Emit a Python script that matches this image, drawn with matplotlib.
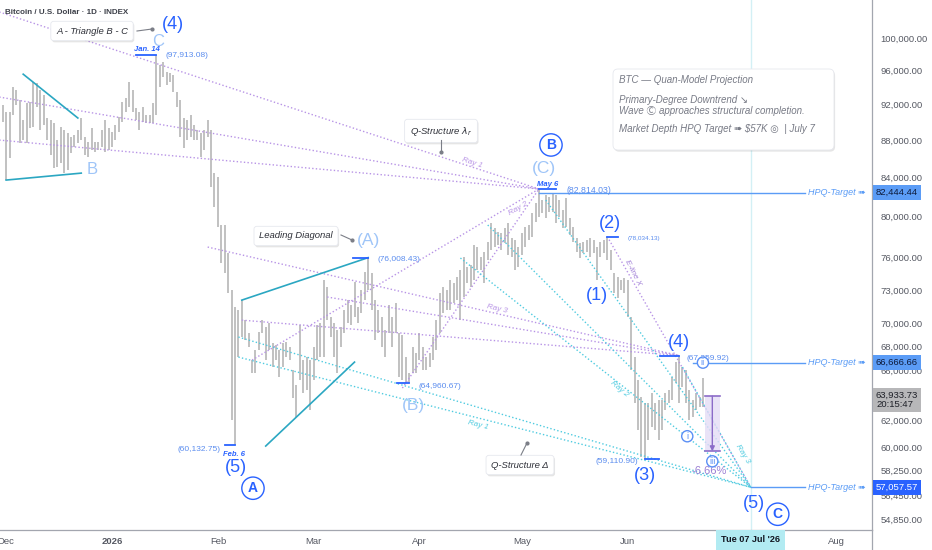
import matplotlib
matplotlib.use("Agg")
import matplotlib.pyplot as plt
import matplotlib.dates as mdates
import matplotlib.patheffects as pe
import matplotlib.transforms as mtransforms
import pandas as pd
from matplotlib.lines import Line2D
from matplotlib.patches import FancyBboxPatch, Rectangle
from matplotlib.ticker import NullLocator, NullFormatter

plt.rcParams["font.family"] = ["Liberation Sans", "DejaVu Sans", "Noto Sans CJK JP"]

# ---- daily bars (high / low), 2025-11-30 .. 2026-06-23
bar_start, bar_end = "2025-11-30", "2026-06-23"
high_nov = [91960]
low_nov = [90040]
high_dec = [91160, 91160, 94070, 93710, 92540, 90260, 92190, 92310, 94650, 94540,
            93710, 93130, 90490, 90260, 89920, 88030, 89480, 89140, 88810, 88360,
            88590, 89140, 90490, 88360, 87810, 89360, 87810, 87810, 89140, 90260, 89360]
low_dec = [83740, 86080, 90820, 91960, 87700, 88030, 87700, 89360, 89480, 91730,
           89140, 89700, 88030, 86400, 85000, 85110, 85540, 84470, 84790, 86620,
           87270, 87700, 88030, 86400, 86190, 86940, 86730, 86940, 87270, 86730, 86940]
high_jan = [88920, 89700, 90600, 92310, 92770, 94650, 93710, 91620, 91160, 91730,
            90820, 90820, 92190, 97913, 96680, 97040, 95840, 95720, 95480, 93480,
            92540, 90490, 90260, 90820, 89700, 89140, 88810, 89140, 90260, 89140, 84470]
low_jan = [87270, 88030, 88920, 90040, 91160, 91730, 91160, 90260, 89140, 90040,
           89920, 89920, 89920, 90820, 94070, 95240, 94300, 94650, 93480, 91730,
           88360, 87160, 88030, 88360, 88030, 88030, 86190, 86940, 88360, 83010, 80960]
high_feb = [84050, 79170, 79170, 76440, 72990, 71460, 71190, 72080, 70300, 69170,
            66880, 67720, 69260, 70300, 69690, 70040, 68310, 68140, 67720, 68310,
            68400, 67970, 66050, 64830, 69870, 66880, 67130, 66880]
low_feb = [78970, 75490, 74560, 72720, 62050, 60133, 67130, 68830, 68570, 67970,
           65800, 65800, 67720, 69170, 66880, 67720, 66300, 66880, 65480, 66300,
           67130, 66880, 63780, 62290, 65230, 64180, 64420, 62830]
high_mar = [67970, 69870, 70040, 73910, 73270, 70570, 70040, 69430, 69690, 71190,
            72080, 71630, 73730, 71460, 72990, 74650, 76008, 74560, 72080, 71190,
            70570, 69430, 71630, 70570, 71810, 69170, 69000, 67130, 65800, 67970, 67470]
low_mar = [65230, 66880, 67130, 67130, 70300, 68830, 67130, 65800, 67970, 69170,
           70040, 69870, 70570, 70040, 70920, 72080, 72990, 71190, 68570, 69170,
           67970, 67130, 69170, 67970, 69170, 65480, 65230, 64990, 64961, 65800, 65800]
high_apr = [69170, 67970, 67130, 67470, 68830, 70300, 72720, 73270, 72990, 73910,
            73640, 74190, 74840, 76060, 75120, 75310, 77210, 77020, 76060, 76540,
            77500, 79360, 78870, 78480, 78380, 78870, 79360, 77890, 77690, 77020]
low_apr = [66880, 66050, 66050, 66300, 66880, 67720, 69170, 70920, 71190, 71190,
           71810, 72080, 70300, 72360, 73640, 73270, 73910, 74840, 74840, 73640,
           75780, 76730, 77020, 77210, 76730, 77400, 76250, 76060, 74840, 75120]
high_may = [78380, 78970, 79170, 80360, 81370, 82814, 81670, 82190, 81980, 82390,
            82190, 81670, 80660, 81880, 79860, 78970, 77890, 77400, 77500, 77690,
            77890, 77690, 77020, 77500, 77690, 78034, 76730, 74560, 74190, 73910, 74100]
low_may = [76250, 77020, 77690, 77990, 79460, 79960, 80360, 79860, 80460, 80460,
           79360, 79960, 78870, 78970, 78180, 77500, 76540, 75970, 76440, 76540,
           76060, 76440, 73910, 76060, 76440, 75780, 74840, 72720, 72270, 72990, 72720]
high_jun = [73910, 70570, 67130, 65230, 63860, 63380, 63380, 64180, 63380, 63620,
            63620, 64180, 64420, 65480, 66710, 67260, 66300, 66050, 64420, 63620,
            64180, 63860, 65390]
low_jun = [70570, 66050, 63380, 61280, 59250, 59111, 60520, 61510, 61280, 60520,
           61280, 62830, 63380, 63620, 64990, 63380, 64670, 63380, 62050, 62290,
           62830, 63070, 63070]

highs = high_nov + high_dec + high_jan + high_feb + high_mar + high_apr + high_may + high_jun
lows = low_nov + low_dec + low_jan + low_feb + low_mar + low_apr + low_may + low_jun

last_price = 63933.73
last_clock = "20:15:47"
measure_pct = -6.66

# wave pivots (date, price)
jan14 = ("2026-01-14", 97913.08)
feb06 = ("2026-02-06", 60132.75)
mar17 = ("2026-03-17", 76008.43)
mar29 = ("2026-03-29", 64960.67)
may06 = ("2026-05-06", 82814.03)
may23 = ("2026-05-23", 73910.00)
may26 = ("2026-05-26", 78034.13)
jun06 = ("2026-06-06", 59110.90)
jun16 = ("2026-06-16", 67259.92)
target = ("2026-07-07", 57057.57)

hpq_prices = [82444.44, 66666.66, 57057.57]
hpq_starts = ["2026-05-06", "2026-06-20", "2026-07-07"]
hpq_end = "2026-07-23"

# rays and trend lines, each as (start, end) points
purple_rays = [
    (("2025-11-29", 103300), may06),
    (("2025-11-29", 92890), may06),
    (("2025-11-29", 88030), may06),
    (("2026-02-11", 66880), may06),
    (("2026-03-27", 64580), may06),
    (("2026-01-29", 77020), jun16),
    (("2026-03-05", 72360), jun16),
    (("2026-02-08", 70300), jun16),
    (may26, target),
]
cyan_rays = [
    (("2026-02-07", 68830), target),
    (("2026-02-07", 67130), target),
    (("2026-04-13", 75970), target),
    (("2026-04-21", 79170), target),
    (("2026-05-08", 81670), target),
    (("2026-06-17", 66300), target),
]
teal_lines = [
    (("2025-12-01", 83740), ("2025-12-23", 84470)),
    (("2025-12-06", 95580), ("2025-12-22", 90490)),
    (("2026-02-08", 72080), mar17),
    (("2026-02-15", 60070), ("2026-03-13", 66710)),
]
marker_lines = [
    (("2026-01-08", jan14[1]), jan14),
    (("2026-02-03", feb06[1]), feb06),
    (("2026-03-12 12:00", mar17[1]), mar17),
    (("2026-03-25 12:00", mar29[1]), mar29),
    (may06, ("2026-05-11", may06[1])),
    (may26, ("2026-05-29", may26[1])),
    (jun06, ("2026-06-10", jun06[1])),
    (("2026-06-10 12:00", jun16[1]), jun16),
]

price_ticks = [100000, 96000, 92000, 88000, 84000, 80000, 76000, 73000, 70000,
               68000, 66000, 62000, 60000, 58250, 56450, 54850]
month_ticks = ["2025-12-01", "2026-01-01", "2026-02-01", "2026-03-01", "2026-04-01",
               "2026-05-01", "2026-06-01", "2026-08-01"]
month_labels = ["Dec", "2026", "Feb", "Mar", "Apr", "May", "Jun", "Aug"]

BLUE = "#2962ff"
LIGHT = "#9fc5f8"
PRICE_BLUE = "#5b8def"
TEAL = "#2ba7c2"
CYAN = "#4fcbe0"
PURPLE = "#b894e6"
HPQ = "#5b9cf6"
NOTE = "#787b86"
DOTS = (0, (1, 1.6))


def d(s):
    return mdates.date2num(pd.Timestamp(s))


fig = plt.figure(figsize=(9.32, 5.5), dpi=100)
ax = fig.add_axes([0, 20 / 550, 872 / 932, 530 / 550])
ax.set_yscale("log")
ax.set_xlim(d("2025-11-29 05:00"), d("2026-08-11 12:00"))
ax.set_ylim(54090, 104860)

# pixel layout transform for notes (x right, y down, origin top-left of the plot)
W, H = 872.0, 530.0
tpx = mtransforms.Affine2D().scale(1 / W, -1 / H).translate(0, 1) + ax.transAxes

# axes styling
for side in ("left", "top"):
    ax.spines[side].set_visible(False)
for side in ("right", "bottom"):
    ax.spines[side].set_color("#a3a6af")
    ax.spines[side].set_linewidth(0.9)
ax.yaxis.tick_right()
ax.set_yticks(price_ticks)
ax.set_yticklabels([f"{v:,.2f}" for v in price_ticks])
ax.yaxis.set_minor_locator(NullLocator())
ax.yaxis.set_minor_formatter(NullFormatter())
ax.tick_params(axis="y", length=0, pad=6, labelsize=6.8, labelcolor="#555862")
ax.set_xticks([d(s) for s in month_ticks])
ax.set_xticklabels(month_labels)
ax.tick_params(axis="x", length=0, pad=5, labelsize=6.8, labelcolor="#555862")
ax.get_xticklabels()[1].set_fontweight("bold")
fig.add_artist(Line2D([872 / 932] * 2, [0, 20 / 550], transform=fig.transFigure,
                      color="#a3a6af", lw=0.9))

# crosshair at the target date
ax.axvline(d(target[0]), color="#d3f0f5", lw=1, zorder=0)

# price bars
bar_x = mdates.date2num(pd.date_range(bar_start, bar_end, freq="D"))
ax.vlines(bar_x, lows, highs, color="#b3b3b3", lw=1.15, zorder=1)

for (a, b) in purple_rays:
    ax.plot([d(a[0]), d(b[0])], [a[1], b[1]], color=PURPLE, lw=1, ls=DOTS, zorder=2)
for (a, b) in cyan_rays:
    ax.plot([d(a[0]), d(b[0])], [a[1], b[1]], color=CYAN, lw=1, ls=DOTS, zorder=2)
for (a, b) in teal_lines:
    ax.plot([d(a[0]), d(b[0])], [a[1], b[1]], color=TEAL, lw=1.2, zorder=2)
for (a, b) in marker_lines:
    ax.plot([d(a[0]), d(b[0])], [a[1], b[1]], color=BLUE, lw=1.3, zorder=3)

for price, start in zip(hpq_prices, hpq_starts):
    ax.plot([d(start), d(hpq_end)], [price, price], color=HPQ, lw=1, zorder=3)
    ax.annotate("HPQ-Target \u27a0", xy=(d(hpq_end), price), xytext=(3, 0),
                textcoords="offset pixels", ha="left", va="center", fontsize=6.5,
                style="italic", color=HPQ, annotation_clip=False)

# measure box (-6.66 %)
m_top = last_price
m_bot = last_price * (1 + measure_pct / 100)
m_x0, m_x1, m_mid = d("2026-06-23 12:00"), d("2026-06-28"), d("2026-06-25 18:00")
ax.add_patch(Rectangle((m_x0, m_bot), m_x1 - m_x0, m_top - m_bot, fc="#e4dcf6",
                       ec="none", alpha=0.8, zorder=2))
ax.plot([m_x0, m_x1], [m_top, m_top], color="#8c6cc8", lw=1.2, zorder=3)
ax.plot([m_x0, m_x1], [m_bot, m_bot], color="#8c6cc8", lw=1.2, zorder=3)
ax.annotate("", xy=(m_mid, m_bot), xytext=(m_mid, m_top),
            arrowprops=dict(arrowstyle="-|>", color="#8c6cc8", lw=1, mutation_scale=7,
                            shrinkA=0, shrinkB=0), zorder=3)
ax.annotate(f"{measure_pct:.2f}%", xy=(m_mid, m_bot), xytext=(-3, -20),
            textcoords="offset pixels", ha="center", va="center", fontsize=8,
            color="#9b7fd4")


def tag(text, pivot, dx, dy, size=6, color=PRICE_BLUE, ha="center", **kw):
    return ax.annotate(text, xy=(d(pivot[0]), pivot[1]), xytext=(dx, dy),
                       textcoords="offset pixels", ha=ha, va="center", fontsize=size,
                       color=color, annotation_clip=False, zorder=5, **kw)


def ring(text, pivot, dx, dy, size=10, color=BLUE, pad=0.3, weight="bold"):
    return tag(text, pivot, dx, dy, size=size, color=color, weight=weight,
               bbox=dict(boxstyle=f"circle,pad={pad}", fc="white", ec=color, lw=1))


tag("(4)", jan14, 17, 30, size=13, color=BLUE)
tag("C", jan14, 2, 13, size=12, color=LIGHT)
tag("Jan. 14", jan14, -9, 5, size=5.5, color=BLUE, weight="bold", style="italic")
tag("(97,913.08)", jan14, 9, -1, ha="left")

tag("(60,132.75)", feb06, -14, -4, ha="right")
tag("Feb. 6", feb06, -1, -9, size=5.5, color=BLUE, weight="bold", style="italic")
tag("(5)", feb06, 1, -22, size=13, color=BLUE)
ring("A", feb06, 18, -43)

tag("(76,008.43)", mar17, 9, -2, ha="left")
tag("(A)", mar17, 0, 17, size=12.5, color=LIGHT)
tag("(64,960.67)", mar29, 9, -3, ha="left")
tag("(B)", mar29, 4, -22, size=12.5, color=LIGHT)

tag("May 6", may06, 9, 4, size=5.5, color=BLUE, weight="bold", style="italic")
tag("(82,814.03)", may06, 28, -2, ha="left", size=6.3)
tag("(C)", may06, 5, 20, size=12.5, color=LIGHT)
ring("B", may06, 12, 44)

tag("(1)", may23, 0, -15, size=13, color=BLUE)
tag("(2)", may26, 3, 13, size=13, color=BLUE)
tag("(78,034.13)", may26, 20, -2, ha="left", size=4.6)
tag("(59,110.90)", jun06, -7, -3, ha="right")
tag("(3)", jun06, 0, -17, size=13, color=BLUE)
tag("(4)", jun16, 0, 13, size=13, color=BLUE)
tag("(67,259.92)", jun16, 7, -3, ha="left")
tag("(5)", target, 3, -16, size=13, color=BLUE)
ring("C", target, 27, -27)

ring("ii", ("2026-06-23", hpq_prices[1]), 0, 0, size=6.5, color="#5a8ff5", pad=0.12,
     weight="normal")
ring("i", ("2026-06-18 10:00", 60810), 0, 0, size=6.5, color="#5a8ff5", pad=0.12,
     weight="normal")
ax.annotate("iii", xy=(m_mid, m_bot), xytext=(0, -10), textcoords="offset pixels",
            ha="center", va="center", fontsize=6.5, color="#5a8ff5", zorder=5,
            bbox=dict(boxstyle="circle,pad=0.12", fc="white", ec="#5a8ff5", lw=1))
tag("B", ("2025-12-23", 84470), 11, 4, size=12, color=LIGHT)

# right-axis price flags
flags = [(hpq_prices[0], "#5b9cf6", "#0d1a3a"), (hpq_prices[1], "#5b9cf6", "#0d1a3a"),
         (hpq_prices[2], "#2962ff", "white")]
for price, fc, tc in flags:
    ax.annotate(f"{price:,.2f}", xy=(1, price), xycoords=ax.get_yaxis_transform(),
                xytext=(4, 0), textcoords="offset pixels", ha="left", va="center",
                fontsize=6.8, color=tc, annotation_clip=False, zorder=6,
                bbox=dict(boxstyle="square,pad=0.3", fc=fc, ec="none"))
ax.annotate(f"{last_price:,.2f}\n{last_clock}", xy=(1, last_price),
            xycoords=ax.get_yaxis_transform(), xytext=(4, -4), textcoords="offset pixels",
            ha="left", va="center", fontsize=6.8, color="#1e2028", linespacing=1.0,
            annotation_clip=False, zorder=6,
            bbox=dict(boxstyle="square,pad=0.3", fc="#b7b7b9", ec="none"))
ax.text(d(target[0]), -10 / 530, "Tue 07 Jul '26", transform=ax.get_xaxis_transform(),
        ha="center", va="center", fontsize=6.6, weight="bold", color="#131722",
        clip_on=False, bbox=dict(boxstyle="square,pad=0.55", fc="#b2ebf2", ec="none"))

# notes and labels in plot pixels
shadow = [pe.SimplePatchShadow(offset=(0.8, -1.2), shadow_rgbFace="black", alpha=0.10),
          pe.Normal()]


def note(x, y, text, size=6.8):
    t = ax.text(x, y, text, transform=tpx, ha="center", va="center", fontsize=size,
                style="italic", color="#2e3038", zorder=6,
                bbox=dict(boxstyle="round,pad=0.55,rounding_size=0.3", fc="white",
                          ec="#e6e8ee", lw=0.6))
    t.get_bbox_patch().set_path_effects(shadow)


def leader(x0, y0, x1, y1):
    ax.plot([x0, x1], [y0, y1], transform=tpx, color="#7b7e87", lw=0.8, zorder=6)
    ax.plot([x1], [y1], "o", ms=2, color="#7b7e87", transform=tpx, zorder=6)


ax.text(5, 12.7, "Bitcoin / U.S. Dollar \u00b7 1D \u00b7 INDEX", transform=tpx,
        ha="left", va="center", fontsize=5.8, weight="bold", color="#3d4049")
note(92, 31, "A - Triangle B - C")
leader(137, 31, 152, 29)
note(296, 236, "Leading Diagonal")
leader(341, 235, 352, 240)
note(441, 131, r"Q-Structure $\lambda_r$")
leader(441, 140, 441, 152)
note(520, 465, "Q-Structure \u0394")
leader(521, 455, 527, 443)

box = FancyBboxPatch((613, 69), 221, 81, boxstyle="round,pad=0,rounding_size=5",
                     transform=tpx, fc="white", ec="#e6e8ee", lw=0.6, zorder=6)
box.set_path_effects(shadow)
ax.add_patch(box)
info = [(80, "BTC \u2014 Quan-Model Projection"),
        (100, "Primary-Degree Downtrend \u2198"),
        (111, "Wave \u24b8 approaches structural completion."),
        (129, "Market Depth HPQ Target \u27a0 $57K \u25ce  | July 7")]
for y, s in info:
    ax.text(619, y, s, transform=tpx, ha="left", va="center", fontsize=7,
            style="italic", color=NOTE, zorder=7)

ray_labels = [(472, 163, "Ray 1", -18, PURPLE), (518, 209, "Ray 2", 30, PURPLE),
              (497, 309, "Ray 3", -13, PURPLE), (478, 425, "Ray 1", -14, CYAN),
              (619, 389, "Ray 2", -40, CYAN), (743, 454, "Ray 3", -58, CYAN),
              (633, 273, "E-line X", -63, "#a07fd6")]
for x, y, s, rot, c in ray_labels:
    ax.text(x, y, s, transform=tpx, ha="center", va="center", fontsize=5.8,
            style="italic", color=c, rotation=rot, rotation_mode="anchor", zorder=4)

fig.savefig("out.png", dpi=100)
